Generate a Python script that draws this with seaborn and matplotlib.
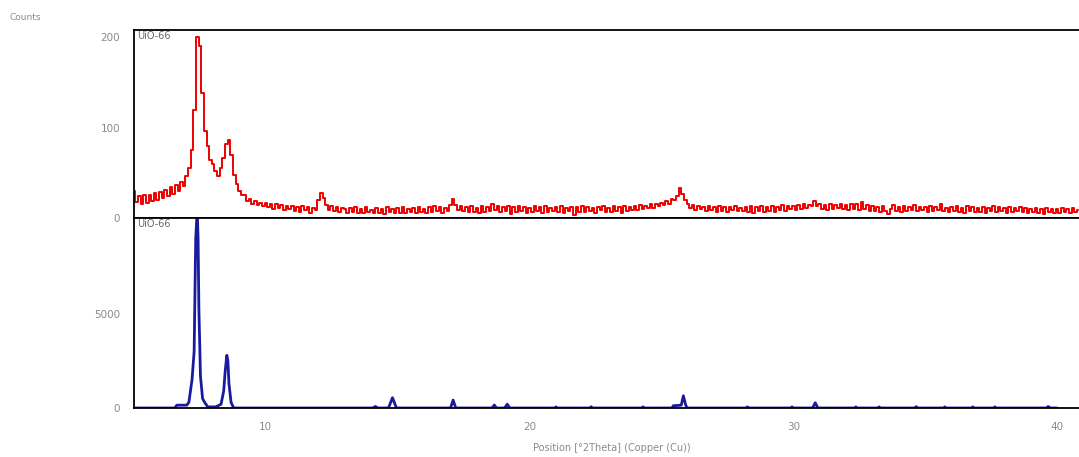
import numpy as np
import pandas as pd
import matplotlib
matplotlib.use("Agg")
import matplotlib.pyplot as plt
from matplotlib.ticker import MultipleLocator
import seaborn as sns

# ---------------- data ----------------
# measured pattern (counts), 2theta from 5.0 in 0.1 deg steps
red_start = 5.0
red_step = 0.1
red_counts = [
    30, 18, 24, 15, 26, 17, 25, 19, 28, 20,      # 5
    29, 22, 31, 24, 34, 27, 37, 30, 40, 35,      # 6
    46, 55, 75, 120, 200, 190, 138, 96, 80, 64,  # 7
    60, 52, 47, 55, 66, 82, 86, 70, 48, 38,      # 8
    30, 25, 26, 19, 21, 16, 19, 14, 17, 13,      # 9
    17, 12, 15, 10, 16, 11, 14, 9, 13, 10,       # 10
    13, 8, 12, 7, 13, 9, 12, 6, 11, 9,           # 11
    20, 28, 22, 14, 9, 13, 8, 12, 7, 11,         # 12
    10, 5, 11, 7, 12, 5, 10, 6, 12, 7,           # 13
    9, 5, 11, 6, 10, 4, 12, 7, 10, 6,            # 14
    11, 6, 12, 5, 10, 7, 11, 5, 12, 7,           # 15
    10, 6, 12, 7, 13, 8, 12, 6, 11, 8,           # 16
    14, 21, 14, 9, 13, 8, 12, 7, 13, 7,          # 17
    11, 6, 13, 7, 12, 8, 16, 9, 13, 7,           # 18
    12, 8, 13, 4, 12, 7, 13, 8, 12, 6,           # 19
    11, 7, 13, 8, 12, 6, 13, 7, 11, 8,           # 20
    12, 7, 13, 6, 11, 8, 12, 3, 12, 7,           # 21
    13, 7, 12, 8, 11, 6, 12, 9, 13, 7,           # 22
    11, 7, 13, 8, 12, 6, 13, 8, 12, 9,           # 23
    13, 9, 14, 10, 13, 11, 15, 11, 16, 13,       # 24
    17, 14, 19, 16, 21, 20, 24, 33, 27, 20,      # 25
    15, 11, 14, 9, 13, 10, 12, 8, 13, 9,         # 26
    12, 7, 13, 8, 12, 7, 12, 9, 13, 8,           # 27
    11, 8, 12, 7, 13, 6, 12, 8, 13, 7,           # 28
    12, 8, 13, 7, 12, 9, 14, 8, 13, 10,          # 29
    13, 9, 14, 10, 15, 11, 14, 13, 19, 13,       # 30
    15, 10, 14, 9, 15, 10, 14, 11, 16, 10,       # 31
    14, 9, 15, 10, 16, 9, 18, 10, 14, 8,         # 32
    13, 8, 12, 7, 13, 8, 4, 10, 14, 8,           # 33
    12, 7, 13, 8, 12, 9, 14, 8, 12, 9,           # 34
    12, 7, 13, 8, 12, 9, 15, 8, 11, 7,           # 35
    12, 8, 13, 7, 11, 6, 13, 8, 12, 7,           # 36
    11, 7, 12, 6, 11, 8, 13, 7, 12, 8,           # 37
    11, 6, 12, 7, 11, 8, 12, 7, 11, 6,           # 38
    10, 7, 11, 6, 10, 4, 11, 7, 10, 6,           # 39
    10, 6, 11, 7, 10, 6, 11, 7, 9,               # 40
]

# reference pattern (counts) at 2theta positions
blue_pos = [5.0, 6.55, 6.62, 7.0, 7.08, 7.2, 7.28, 7.34, 7.38, 7.40, 7.43,
            7.46, 7.52, 7.6, 7.7, 7.8, 8.1, 8.3, 8.4, 8.46, 8.52, 8.56, 8.6,
            8.68, 8.78, 14.05, 14.15, 14.25, 14.65, 14.8, 14.95, 17.0, 17.1,
            17.2, 18.58, 18.66, 18.74, 19.05, 19.15, 19.25, 20.95, 21.0, 21.05,
            22.28, 22.33, 22.38, 24.25, 24.3, 24.35, 25.4, 25.45, 25.75, 25.83,
            25.92, 25.97, 28.2, 28.26, 28.32, 29.9, 29.95, 30.0, 30.73, 30.83,
            30.93, 32.32, 32.37, 32.42, 33.2, 33.25, 33.3, 34.6, 34.66, 34.72,
            35.7, 35.74, 35.78, 36.75, 36.8, 36.85, 37.6, 37.64, 37.68, 39.6,
            39.66, 39.75, 40.0]
blue_counts = [0, 0, 150, 150, 300, 1500, 3000, 9000, 10100, 10400, 9000,
               5300, 1700, 500, 250, 60, 60, 200, 900, 2000, 2800, 2500, 1300,
               300, 0, 0, 80, 0, 0, 550, 0, 0, 420, 0, 0, 160, 0, 0, 200, 0,
               0, 60, 0, 0, 70, 0, 0, 60, 0, 0, 120, 150, 650, 150, 0, 0, 60,
               0, 0, 60, 0, 0, 280, 0, 0, 60, 0, 0, 60, 0, 0, 70, 0, 0, 60, 0,
               0, 60, 0, 0, 60, 0, 0, 80, 0, 0]

red_label = "UiO-66"
blue_label = "UiO-66"
top_yticks = [0, 100, 200]
bottom_yticks = [0, 5000]
xticks = [10, 20, 30, 40]

red_df = pd.DataFrame({
    "pos": np.round(red_start + red_step * np.arange(len(red_counts)), 2),
    "counts": red_counts})
blue_df = pd.DataFrame({"pos": blue_pos, "counts": blue_counts})

# ---------------- figure ----------------
sns.set_style("white")
plt.rcParams["font.family"] = ["DejaVu Sans"]

W, H = 1079, 457
fig = plt.figure(figsize=(W / 100, H / 100), dpi=100)

def fx(px):
    return px / W

def fy(py):
    return 1 - py / H

left, right = 134, 1079
ax_top = fig.add_axes([fx(left), fy(218), fx(right - left), fy(30) - fy(218)])
ax_bot = fig.add_axes([fx(left), fy(408), fx(right - left), fy(218) - fy(408)])

sns.lineplot(data=red_df, x="pos", y="counts", ax=ax_top, color="#ee0000",
             linewidth=1.4, drawstyle="steps-mid")
sns.lineplot(data=blue_df, x="pos", y="counts", ax=ax_bot, color="#1a1aa0",
             linewidth=2.0)

xlim = (5.0, 40.83)
for ax in (ax_top, ax_bot):
    ax.set_xlim(*xlim)
    ax.set_xlabel("")
    ax.set_ylabel("")
    ax.spines["right"].set_visible(False)
    for s in ("left", "top", "bottom"):
        ax.spines[s].set_color("black")
        ax.spines[s].set_linewidth(1.3)
    ax.tick_params(axis="y", direction="out", length=7, width=2,
                   color="black", labelsize=7.5, labelcolor="#8a8a8a", pad=3)

ax_top.set_ylim(0, 208)
ax_top.set_yticks(top_yticks)
ax_top.set_xticks([])
ax_top.tick_params(axis="x", length=0)

ax_bot.set_ylim(0, 10106)
ax_bot.set_yticks(bottom_yticks)
ax_bot.set_yticklabels([str(v) for v in bottom_yticks])
ax_bot.set_xticks(xticks)
ax_bot.xaxis.set_minor_locator(MultipleLocator(1))
ax_bot.tick_params(axis="x", which="major", direction="out", length=7,
                   width=1.5, color="black", labelsize=7.5,
                   labelcolor="#8a8a8a", pad=3)
ax_bot.tick_params(axis="x", which="minor", direction="out", length=3,
                   width=1.0, color="black")

ax_top.text(0.003, 0.995, red_label, transform=ax_top.transAxes, ha="left",
            va="top", fontsize=7, color="#6a6a6a")
ax_bot.text(0.003, 0.995, blue_label, transform=ax_bot.transAxes, ha="left",
            va="top", fontsize=7, color="#6a6a6a")

fig.text(fx(10), fy(18), "Counts", ha="left", va="center", fontsize=6.5,
         color="#8a8a8a")
fig.text(fx(612), fy(448), "Position [°2Theta] (Copper (Cu))", ha="center",
         va="center", fontsize=7, color="#8a8a8a")

fig.savefig("out.png", dpi=100)
